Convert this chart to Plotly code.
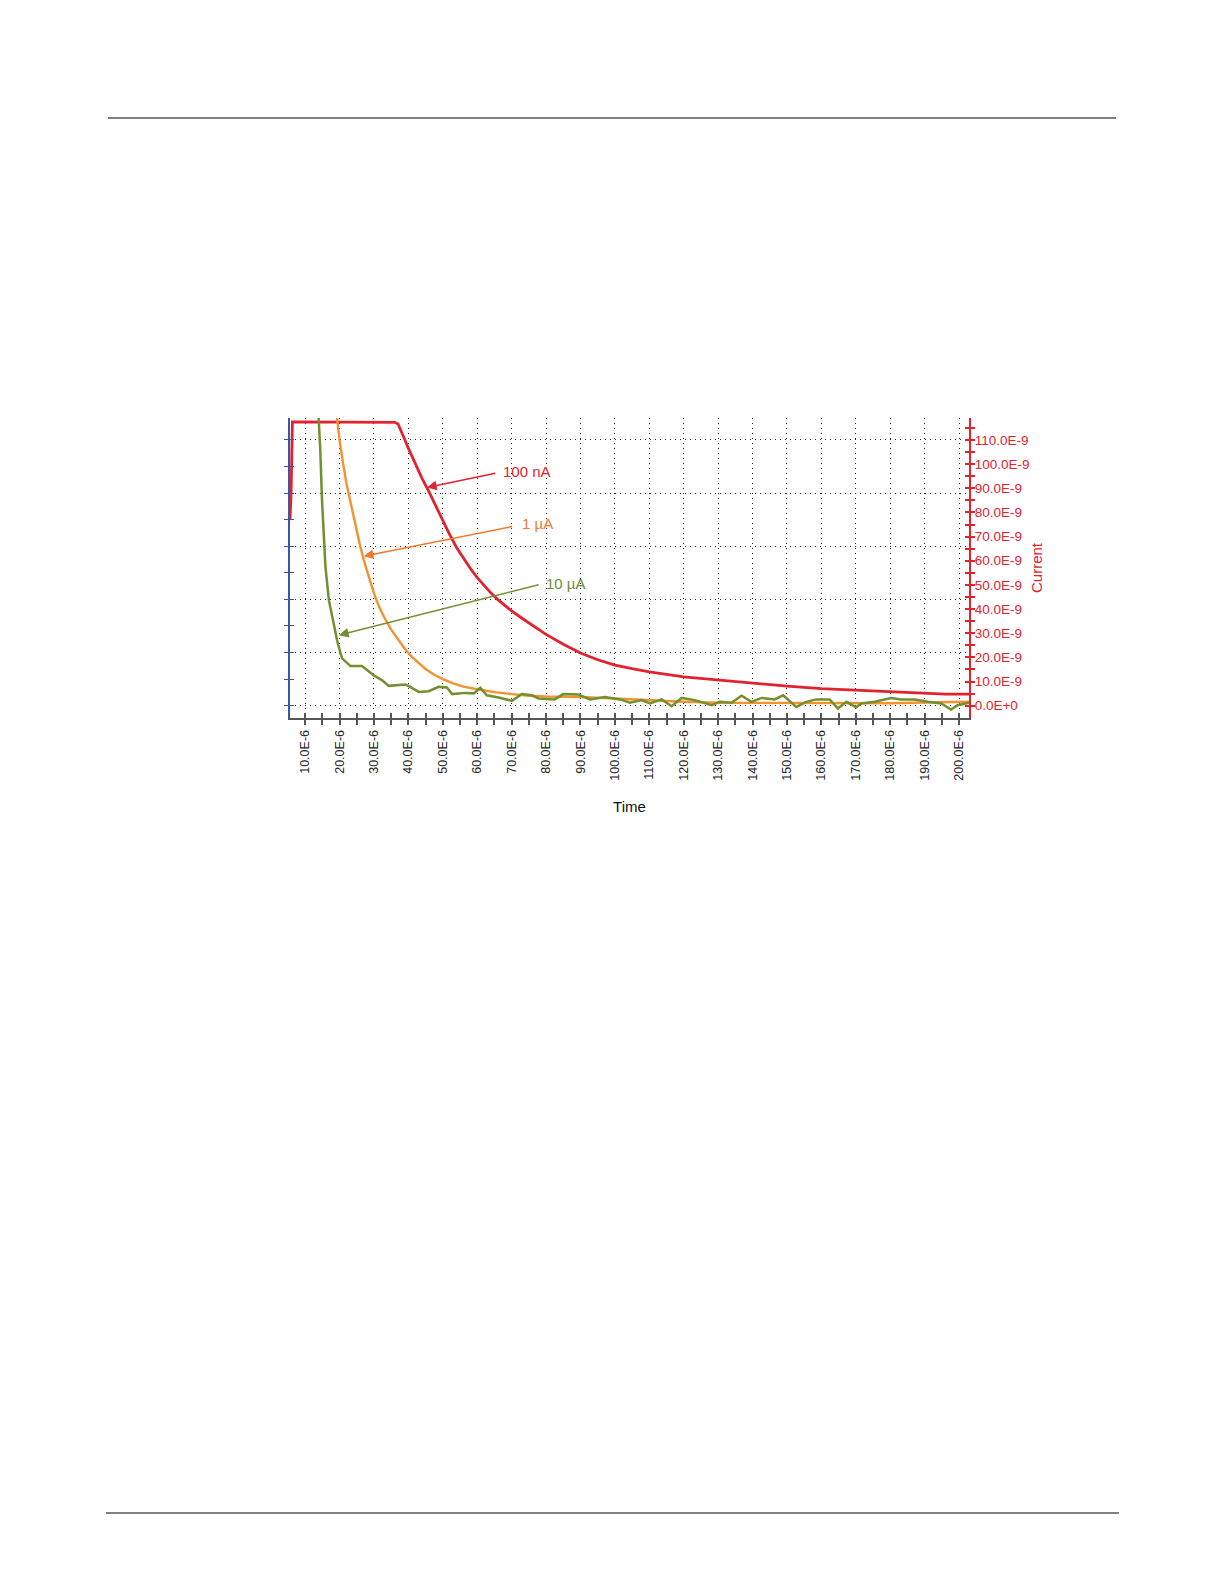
import plotly.graph_objects as go

# ---------------- data (time in µs, current in nA) ----------------
red_t = [5.6, 5.9, 6.3, 34.8, 36.0, 37.0, 38.0, 39.0, 40.0, 42.0, 44.0, 46.0, 48.0, 50.0, 52.0,
         54.0, 56.0, 58.0, 60.0, 62.0, 64.0, 66.0, 68.0, 70.0, 73.0, 76.0, 80.0, 85.0, 90.0,
         95.0, 100.0, 105.0, 110.0, 120.0, 130.0, 140.0, 150.0, 160.0, 170.0, 180.0, 190.0,
         196.0, 202.9]
red_i = [77, 87, 117.5, 117.5, 117.3, 116.6, 113.5, 110, 106.5, 100, 94, 88.5, 82.5, 76.5, 70.8,
         65.5, 61.0, 56.8, 53.0, 49.6, 46.6, 43.9, 41.4, 39.2, 36.2, 33.3, 29.5, 25.4, 21.8,
         19.0, 16.8, 15.3, 14.0, 11.9, 10.6, 9.4, 8.1, 7.1, 6.4, 5.7, 5.3, 4.8, 4.8]

orange_t = [19.2, 20.0, 21.0, 22.0, 23.0, 24.0, 25.0, 26.0, 27.0, 28.0, 29.0, 30.0, 31.5, 33.0,
            35.0, 37.0, 39.0, 41.0, 43.0, 45.0, 47.5, 50.0, 53.0, 56.0, 60.0, 65.0, 70.0, 75.0,
            80.0, 89.8, 99.9, 109.7, 119.9, 130.0, 140.0, 150.0, 160.0, 170.0, 180.0, 190.0,
            197.0, 202.9]
orange_i = [120, 110, 100.5, 92, 85.5, 78.5, 72, 66, 60.5, 55.5, 50.5, 46.5, 41, 36.5,
            31.5, 27.5, 23.5, 20.2, 17.5, 15.2, 12.8, 11.0, 9.2, 7.9, 6.8, 5.6, 4.8, 4.1,
            3.8, 3.6, 3.0, 2.3, 1.6, 1.2, 1.1, 1.0, 0.9, 0.9, 1.0, 1.3, 1.6, 1.6]

green_t = [13.9, 14.4, 14.9, 15.4, 15.9, 16.9, 18.3, 19.3, 20.3, 20.8, 23.2, 26.5, 29.9, 32.3,
           34.3, 39.1, 40.5, 43.0, 45.9, 48.8, 51.2, 52.7, 56.5, 59.0, 60.9, 62.8, 66.2, 70.1,
           73.0, 75.9, 77.8, 82.5, 85.0, 89.4, 92.8, 97.1, 101.5, 104.4, 107.8, 110.2, 113.6,
           116.5, 119.4, 123.2, 128.1, 130.5, 133.9, 136.8, 139.7, 142.6, 146.4, 148.9, 152.7,
           155.6, 158.5, 162.4, 164.8, 167.3, 170.1, 171.6, 175.5, 180.3, 183.2, 187.1, 190.9,
           194.8, 197.7, 199.6, 202.9]
green_i = [120, 105.8, 85.1, 71.3, 57.5, 43.7, 33.0, 27.0, 21.5, 19.5, 16.4, 16.4, 12.6, 10.6,
           8.2, 8.8, 7.8, 5.7, 6.0, 7.8, 7.5, 4.8, 5.3, 5.1, 7.4, 4.3, 3.4, 2.0,
           4.8, 4.3, 3.0, 2.6, 4.8, 4.6, 2.6, 3.6, 2.6, 1.2, 2.3, 0.9, 2.6,
           -0.2, 3.2, 2.3, 0.2, 1.6, 1.2, 4.1, 1.6, 3.2, 2.6, 4.3, -0.5,
           1.6, 2.6, 2.6, -1.2, 1.6, -0.7, 0.9, 1.6, 3.2, 2.6, 2.6, 1.6,
           0.9, -1.6, 0.2, 1.2]

x_tick_vals = [10, 20, 30, 40, 50, 60, 70, 80, 90, 100, 110, 120, 130, 140, 150, 160, 170, 180, 190, 200]
x_tick_labels = ["10.0E-6", "20.0E-6", "30.0E-6", "40.0E-6", "50.0E-6", "60.0E-6", "70.0E-6",
                 "80.0E-6", "90.0E-6", "100.0E-6", "110.0E-6", "120.0E-6", "130.0E-6", "140.0E-6",
                 "150.0E-6", "160.0E-6", "170.0E-6", "180.0E-6", "190.0E-6", "200.0E-6"]
x_small_ticks = [10, 15, 20, 25, 30, 35, 40, 45, 50, 55, 60, 65, 70, 75, 80, 85, 90, 95, 100,
                 105, 110, 115, 120, 125, 130, 135, 140, 145, 150, 155, 160, 165, 170, 175, 180,
                 185, 190, 195, 200]
x_minor_ticks = [15, 25, 35, 45, 55, 65, 75, 85, 95, 105, 115, 125, 135, 145, 155, 165, 175, 185, 195]

y_tick_vals = [0, 10, 20, 30, 40, 50, 60, 70, 80, 90, 100, 110]
y_tick_labels = ["0.0E+0", "10.0E-9", "20.0E-9", "30.0E-9", "40.0E-9", "50.0E-9", "60.0E-9",
                 "70.0E-9", "80.0E-9", "90.0E-9", "100.0E-9", "110.0E-9"]
y_right_small = [0, 5, 10, 15, 20, 25, 30, 35, 40, 45, 50, 55, 60, 65, 70, 75, 80, 85, 90, 95,
                 100, 105, 110, 115]
y_right_minor = [5, 15, 25, 35, 45, 55, 65, 75, 85, 95, 105, 115]
y_left_grid = [0, 22, 44, 66, 88, 110]
y_left_minor = [11, 33, 55, 77, 99]
y_left_small = [0, 11, 22, 33, 44, 55, 66, 77, 88, 99, 110]

X_RANGE = [5.6, 202.9]
Y_RANGE = [-5.1, 119.1]

RED = "#e2232e"
ORANGE = "#f5922f"
ORANGE_TXT = "#f07a2a"
GREEN = "#72902e"
GREEN_TXT = "#6f8b36"
BLUE = "#3558a8"
AXIS = "#555555"
FONT = "Liberation Sans, Arial, sans-serif"

fig = go.Figure()
fig.add_trace(go.Scatter(x=red_t, y=red_i, mode="lines", line=dict(color=RED, width=2.8),
                         showlegend=False, name="100 nA"))
fig.add_trace(go.Scatter(x=orange_t, y=orange_i, mode="lines", line=dict(color=ORANGE, width=2.4),
                         showlegend=False, name="1 µA"))
fig.add_trace(go.Scatter(x=green_t, y=green_i, mode="lines", line=dict(color=GREEN, width=2.5),
                         showlegend=False, name="10 µA"))
# helper (empty) traces so that overlay axes are drawn
for xa, ya in [("x2", "y"), ("x", "y2"), ("x", "y3"), ("x", "y4")]:
    fig.add_trace(go.Scatter(x=[None], y=[None], xaxis=xa, yaxis=ya, showlegend=False,
                             hoverinfo="skip", mode="lines"))

grid = dict(showgrid=True, gridcolor="#222222", gridwidth=1, griddash="1px,4px")

L, T, PW, PH = 282, 410, 679, 300
FW, FH = 1224, 1584

fig.update_layout(
    width=FW, height=FH,
    margin=dict(l=L, r=FW - L - PW, t=T, b=FH - T - PH),
    paper_bgcolor="white", plot_bgcolor="white",
    font=dict(family=FONT, color="#222222"),
    xaxis=dict(range=X_RANGE, tickmode="array", tickvals=x_tick_vals, ticktext=x_tick_labels,
               tickangle=-90, tickfont=dict(size=12.5, color="#222222"),
               ticks="outside", ticklen=5, tickwidth=1.5, tickcolor=AXIS,
               minor=dict(tickmode="array", tickvals=x_minor_ticks, ticks="outside", ticklen=5,
                          tickwidth=1.5, tickcolor=AXIS, showgrid=False),
               showline=True, linecolor=AXIS, linewidth=2, zeroline=False,
               title=dict(text="Time", font=dict(size=15, color="#111111"), standoff=22),
               **grid),
    xaxis2=dict(overlaying="x", anchor="y", side="bottom", range=X_RANGE, tickmode="array",
                tickvals=x_small_ticks, ticks="inside", ticklen=5, tickwidth=1.5, tickcolor=AXIS,
                showticklabels=False, showgrid=False, showline=False, zeroline=False),
    yaxis=dict(range=Y_RANGE, side="left", tickmode="array", tickvals=y_left_grid,
               showticklabels=False, ticks="outside", ticklen=4, tickwidth=1.2, tickcolor=BLUE,
               minor=dict(tickmode="array", tickvals=y_left_minor, ticks="outside", ticklen=4,
                          tickwidth=1.2, tickcolor=BLUE, showgrid=False),
               showline=True, linecolor=BLUE, linewidth=1.5, zeroline=False, **grid),
    yaxis2=dict(overlaying="y", anchor="x", side="left", range=Y_RANGE, tickmode="array",
                tickvals=y_left_small, ticks="inside", ticklen=4, tickwidth=1.2, tickcolor=BLUE,
                showticklabels=False, showgrid=False, showline=False, zeroline=False),
    yaxis3=dict(overlaying="y", anchor="x", side="right", range=Y_RANGE, tickmode="array",
                tickvals=y_tick_vals, ticktext=y_tick_labels,
                tickfont=dict(size=13.5, color=RED), ticks="outside", ticklen=4, tickwidth=1.5,
                tickcolor=RED, ticklabelstandoff=-3,
                minor=dict(tickmode="array", tickvals=y_right_minor, ticks="outside", ticklen=4,
                           tickwidth=1.5, tickcolor=RED, showgrid=False),
                showline=True, linecolor=RED, linewidth=2, showgrid=False, zeroline=False,
                title=dict(text="Current", font=dict(size=15, color=RED), standoff=3)),
    yaxis4=dict(overlaying="y", anchor="x", side="right", range=Y_RANGE, tickmode="array",
                tickvals=y_right_small, ticks="inside", ticklen=4, tickwidth=1.5, tickcolor=RED,
                showticklabels=False, showgrid=False, showline=False, zeroline=False),
)

# arrows (head at the curve, tail near the label)
arrows = [
    (45.4, 90.3, 65.7, 96.4, RED),
    (27.0, 61.9, 70.6, 74.3, ORANGE_TXT),
    (19.8, 29.2, 78.3, 50.2, GREEN),
]
for hx, hy, tx, ty, col in arrows:
    fig.add_annotation(x=hx, y=hy, ax=tx, ay=ty, xref="x", yref="y", axref="x", ayref="y",
                       text="", showarrow=True, arrowhead=2, arrowsize=1.3, arrowwidth=1.5,
                       arrowcolor=col, standoff=0, startstandoff=0)

labels = [
    (67.0, 97.1, "100 nA", RED),
    (72.4, 75.6, "1 µA", ORANGE_TXT),
    (79.4, 50.7, "10 µA", GREEN_TXT),
]
for lx, ly, txt, col in labels:
    fig.add_annotation(x=lx, y=ly, xref="x", yref="y", text=txt, showarrow=False,
                       xanchor="left", yanchor="middle", font=dict(size=15, color=col, family=FONT))


# page rules (document header / footer lines), given in page pixels
def px(xs):
    return (xs - L) / PW


def py(ys):
    return (T + PH - ys) / PH


fig.add_shape(type="line", xref="paper", yref="paper", x0=px(100), x1=px(1108),
              y0=py(110), y1=py(110), line=dict(color="#000000", width=1))
fig.add_shape(type="line", xref="paper", yref="paper", x0=px(98), x1=px(1111),
              y0=py(1505), y1=py(1505), line=dict(color="#000000", width=1))

fig.write_html("out.html")
